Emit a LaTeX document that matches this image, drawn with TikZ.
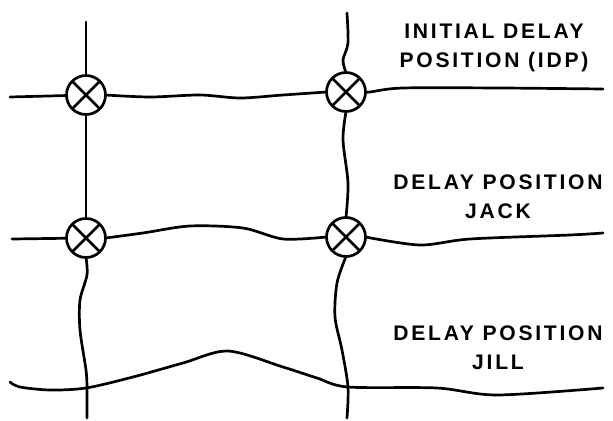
\documentclass[tikz,border=0pt]{standalone}
\usepackage{fontspec}
\newfontfamily\lblfont[LetterSpace=13]{Liberation Sans}
\begin{document}
\begin{tikzpicture}[x=0.03cm, y=-0.03cm, line width=2.3pt,
	every node/.style={font=\lblfont\bfseries\fontsize{18}{24.7}\selectfont},
	jackbox/.style={circle, draw, minimum size=1.17cm, inner sep=0pt, outer sep=0pt},
	wire/.style={line join=round, line cap=round}]
	\useasboundingbox (0,0) rectangle (613,421);
	\node[jackbox] (ta) at (86,95) {};
	\node[jackbox] (tb) at (346,92) {};
	\node[jackbox] (ma) at (86,238) {};
	\node[jackbox] (mb) at (346,237) {};
	\foreach \n in {ta,tb,ma,mb}
		\draw (\n.north west) -- (\n.south east) (\n.north east) -- (\n.south west);
	\coordinate (v1top) at (86,22);
	\coordinate (v1bot) at (87,418);
	\coordinate (v2top) at (347,13);
	\coordinate (v2bot) at (347,418);
	\coordinate (h1w) at (10,97);
	\coordinate (h1e) at (603,89);
	\coordinate (h2w) at (12,239);
	\coordinate (h2e) at (603,233);
	\coordinate (h3w) at (10,382);
	\coordinate (h3e) at (603,388);
	\draw[wire] (v1top) -- (ta);
	\draw[wire] (ta) -- (ma);
	\draw[wire] plot[smooth] coordinates {(ma.south) (87,275) (80,300) (80,330) (86,370) (87,388) (v1bot)};
	\draw[wire] plot[smooth] coordinates {(v2top) (348,43) (343,60) (tb.north)};
	\draw[wire] plot[smooth] coordinates {(tb.south) (343,140) (348,183) (mb.north)};
	\draw[wire] plot[smooth] coordinates {(mb.south) (337,283) (335,317) (342,350) (348,387) (v2bot)};
	\draw[wire] (h1w) -- (ta);
	\draw[wire] plot[smooth] coordinates {(ta.east) (150,97) (200,95) (240,98) (283,95) (tb.west)};
	\draw[wire] plot[smooth] coordinates {(tb.east) (370,92) (403,88) (500,88) (h1e)};
	\draw[wire] (h2w) -- (ma);
	\draw[wire] plot[smooth] coordinates {(ma.east) (143,233) (190,226) (243,228) (283,239) (mb.west)};
	\draw[wire] plot[smooth] coordinates {(mb.east) (420,245) (470,239) (570,235) (h2e)};
	\draw[wire] plot[smooth] coordinates {(h3w) (20,387) (50,390) (86,388) (133,377) (183,363) (228,351) (283,367) (317,378) (348,387) (437,388) (497,395) (h3e)};
	\node[align=center] (lblidp) at (494,48) {INITIAL DELAY\\POSITION (IDP)};
	\node[align=center] (lbljack) at (498,197) {DELAY POSITION\\JACK};
	\node[align=center] (lbljill) at (498,348) {DELAY POSITION\\JILL};
\end{tikzpicture}
\end{document}
